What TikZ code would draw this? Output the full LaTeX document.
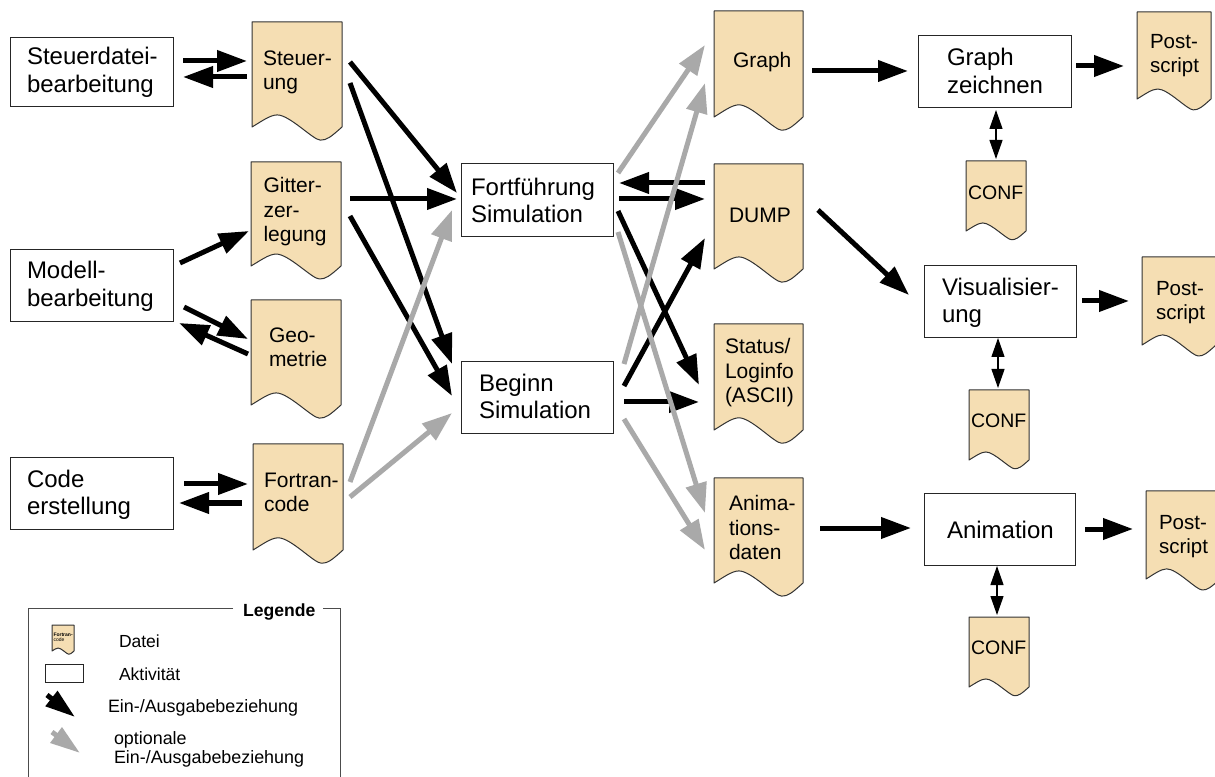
\documentclass[tikz,border=0pt]{standalone}
\usepackage{fontspec}
\setmainfont{Liberation Sans}
\usetikzlibrary{arrows.meta,calc}
\definecolor{docwheat}{HTML}{F5DEB3}
\definecolor{optgrey}{HTML}{A9A9A9}
\tikzset{
  blk/.style={draw=black,fill=none,line width=3.75pt,-{Triangle[length=22.5pt,width=15.5pt]}},
  gry/.style={draw=optgrey,fill=none,line width=3.75pt,-{Triangle[length=22.5pt,width=15.5pt,fill=optgrey]}},
  dbl/.style={draw=black,line width=.9pt,{Triangle[length=14.25pt,width=9.75pt]}-{Triangle[length=14.25pt,width=9.75pt]}},
  docpath/.style={draw=black!80,fill=docwheat,line width=.75pt,line join=round},
  ghost/.style={inner sep=0pt,outer sep=0pt},
  actbox/.style={draw=black!85,fill=white,line width=.7pt,inner sep=0pt,outer sep=0pt},
  lbl/.style={anchor=north west,inner sep=0pt,outer sep=0pt,align=left,text=black},
  framepart/.style={draw=black!70,line width=.75pt},
}
% name, x1, x2, top, left-bottom
\newcommand{\docshape}[5]{%
  \pgfmathsetmacro{\dw}{#3-#2}\pgfmathsetmacro{\dh}{#5-#4}%
  \path[docpath] (#2,#4) -- (#3,#4) -- (#3,#5)
    .. controls ({#2+.87*\dw},{#5+.10*\dh}) and ({#2+.83*\dw},{#5+.125*\dh}) .. ({#2+.76*\dw},{#5+.125*\dh})
    .. controls ({#2+.68*\dw},{#5+.125*\dh}) and ({#2+.42*\dw},{#5-.115*\dh}) .. ({#2+.28*\dw},{#5-.115*\dh})
    .. controls ({#2+.2*\dw},{#5-.115*\dh}) and ({#2+.1*\dw},{#5-.05*\dh}) .. (#2,#5) -- cycle;
  \node[ghost,minimum width=\dw*0.75pt,minimum height=\dh*0.75pt] (#1) at ({(#2+#3)/2},{(#4+#5)/2}) {};%
}
% name, x1, x2, top, bottom
\newcommand{\actshape}[5]{%
  \pgfmathsetmacro{\dw}{#3-#2}\pgfmathsetmacro{\dh}{#5-#4}%
  \node[actbox,minimum width=\dw*0.75pt,minimum height=\dh*0.75pt] (#1) at ({(#2+#3)/2},{(#4+#5)/2}) {};%
}
% name, x, first baseline, size px, leading px, text
\newcommand{\lbltext}[6]{%
  \pgfmathsetmacro{\fs}{#4*0.75}\pgfmathsetmacro{\fl}{#5*0.75}%
  \node[lbl,font=\fontsize{\fs pt}{\fl pt}\selectfont] (#1) at (#2,{#3-.8*#4}) {\rule{0pt}{.8em}#6};%
}
\begin{document}
\begin{tikzpicture}[x=0.75pt,y=-0.75pt]
\clip (0,0) rectangle (1215,777);
\fill[white] (0,0) rectangle (1215,777);

% activities
\actshape{sd}{10}{173}{37}{106}
\actshape{mb}{10}{173}{249}{321}
\actshape{ce}{10}{173}{457}{529}
\actshape{ff}{461}{613}{163}{236}
\actshape{bs}{461}{613}{361}{433}
\actshape{gz}{918}{1071}{35}{107}
\actshape{vi}{924}{1076}{265}{337}
\actshape{an}{924}{1075}{493}{565}
\lbltext{sdt}{27}{65}{24}{28}{Steuerdatei-\\bearbeitung}
\lbltext{mbt}{27}{279}{24}{28}{Modell-\\bearbeitung}
\lbltext{cet}{27}{487}{24}{27}{Code\\erstellung}
\lbltext{fft}{471}{196}{24}{27}{Fortführung\\Simulation}
\lbltext{bst}{479}{392}{24}{27}{Beginn\\Simulation}
\lbltext{gzt}{947}{66}{24}{28}{Graph\\zeichnen}
\lbltext{vit}{942}{296}{24}{27}{Visualisier-\\ung}
\lbltext{ant}{947}{538}{24}{27}{Animation}

% files
\docshape{st}{252}{342}{22}{127}
\docshape{gi}{251}{341}{162}{266}
\docshape{ge}{251}{341}{300}{405}
\docshape{fc}{253}{343}{444}{550}
\docshape{gr}{714}{803}{11}{117}
\docshape{du}{714}{803}{164}{269}
\docshape{sl}{714}{803}{324}{430}
\docshape{ad}{714}{803}{478}{583}
\docshape{p1}{1137}{1211}{12}{99}
\docshape{c1}{966}{1026}{161}{231}
\docshape{p2}{1142}{1216}{257}{345}
\docshape{c2}{969}{1029}{390}{460}
\docshape{p3}{1146}{1220}{491}{579}
\docshape{c3}{969}{1029}{617}{687}
\lbltext{stt}{263}{66}{21}{24}{Steuer-\\ung}
\lbltext{git}{263.5}{193}{21}{24.5}{Gitter-\\zer-\\legung}
\lbltext{get}{269}{343}{21}{24}{Geo-\\metrie}
\lbltext{fct}{264}{488}{21}{24}{Fortran-\\code}
\lbltext{grt}{733}{68}{21}{24}{Graph}
\lbltext{dut}{729}{223}{21}{24}{DUMP}
\lbltext{slt}{725}{354}{21}{24.5}{Status/\\Loginfo\\(ASCII)}
\lbltext{adt}{729}{511}{21}{24}{Anima-\\tions-\\daten}
\lbltext{p1t}{1150}{49}{20.5}{24}{Post-\\script}
\lbltext{c1t}{968}{200}{19.5}{24}{CONF}
\lbltext{p2t}{1156}{296}{20.5}{24}{Post-\\script}
\lbltext{c2t}{971}{428}{19.5}{24}{CONF}
\lbltext{p3t}{1159}{529}{20.5}{24.5}{Post-\\script}
\lbltext{c3t}{971}{654}{19.5}{24}{CONF}

% black connectors
\draw[blk] ($(sd)+(91.5,-10.5)$) -- ($(st)+(-50,-13.5)$);
\draw[blk] ($(st)+(-50,2.5)$) -- ($(sd)+(91.5,5.5)$);
\draw[blk] ($(st)+(53,-12.5)$) -- ($(ff)+(-80,-6.5)$);
\draw[blk] ($(st)+(53,8.5)$) -- ($(bs)+(-85,-33)$);
\draw[blk] ($(gi)+(54,-15)$) -- ($(ff)+(-80,-.5)$);
\draw[blk] ($(gi)+(54,2)$) -- ($(bs)+(-85,-1)$);
\draw[blk] ($(mb)+(88.5,-22)$) -- ($(gi)+(-47,17)$);
\draw[blk] ($(mb)+(92.5,22)$) -- ($(ge)+(-48,-13.5)$);
\draw[blk] ($(ge)+(-48,1.5)$) -- ($(mb)+(87.5,38)$);
\draw[blk] ($(ce)+(92.5,-9)$) -- ($(fc)+(-50,-13)$);
\draw[blk] ($(fc)+(-56,6)$) -- ($(ce)+(87.5,10)$);
\draw[blk] ($(du)+(-53.5,-33.5)$) -- ($(ff)+(82,-16.5)$);
\draw[blk] ($(ff)+(82,-.5)$) -- ($(du)+(-53.5,-17.5)$);
\draw[blk] ($(ff)+(81,11.5)$) -- ($(sl)+(-59.5,8)$);
\draw[blk] ($(bs)+(87,-11)$) -- ($(du)+(-53.5,21.5)$);
\draw[blk] ($(bs)+(87,5)$) -- ($(sl)+(-59.5,25)$);
\draw[blk] ($(gr)+(53.5,7)$) -- ($(gz)+(-86.5,0)$);
\draw[blk] ($(gz)+(81.5,-5)$) -- ($(p1)+(-50,10.5)$);
\draw[blk] ($(du)+(59.5,-6.5)$) -- ($(vi)+(-91,-6)$);
\draw[blk] ($(vi)+(82,0)$) -- ($(p2)+(-50,0)$);
\draw[blk] ($(ad)+(61.5,-2.5)$) -- ($(an)+(-88.5,-1)$);
\draw[blk] ($(an)+(85.5,0)$) -- ($(p3)+(-50,-6)$);
\draw[dbl] ($(gz)+(1.5,39)$) -- ($(c1)+(0,-37)$);
\draw[dbl] ($(vi)+(-2,37)$) -- ($(c2)+(-1,-37)$);
\draw[dbl] ($(an)+(-2.5,37)$) -- ($(c3)+(-2,-37)$);

% optional connectors
\draw[gry] ($(fc)+(52,-15)$) -- ($(ff)+(-85,10.5)$);
\draw[gry] ($(fc)+(52,0)$) -- ($(bs)+(-85,16)$);
\draw[gry] ($(ff)+(81,-26.5)$) -- ($(gr)+(-53.5,-19)$);
\draw[gry] ($(bs)+(87,-33)$) -- ($(gr)+(-53.5,19)$);
\draw[gry] ($(ff)+(81,32.5)$) -- ($(ad)+(-53.5,-17.5)$);
\draw[gry] ($(bs)+(87,22)$) -- ($(ad)+(-53.5,19.5)$);

% legend
\draw[framepart] (233,608) -- (28,608) -- (28,777);
\draw[framepart] (323,608) -- (340,608) -- (340,777);
\lbltext{lgt}{243}{616}{17.6}{20}{\bfseries Legende}
\docshape{lgd}{52}{74}{625}{651}
\lbltext{lgdt}{53.5}{636}{5}{5.5}{\bfseries Fortran-\\code}
\actshape{lgr}{45}{83}{664}{682}
\lbltext{lg1}{119}{647}{17.5}{20}{Datei}
\lbltext{lg2}{119}{680}{17.5}{20}{Aktivität}
\lbltext{lg3}{108}{712}{17.9}{20}{Ein-/Ausgabebeziehung}
\lbltext{lg4}{114}{744}{17.9}{19}{optionale\\Ein-/Ausgabebeziehung}
\coordinate (lga) at (47,695);
\coordinate (lgb) at (75,717);
\coordinate (lgc) at (52,732);
\coordinate (lgd2) at (80,753);
\draw[blk,-{Triangle[length=22.5pt,width=13.8pt]}] (lga) -- (lgb);
\draw[gry,-{Triangle[length=22.5pt,width=13.8pt,fill=optgrey]}] (lgc) -- (lgd2);
\end{tikzpicture}
\end{document}
